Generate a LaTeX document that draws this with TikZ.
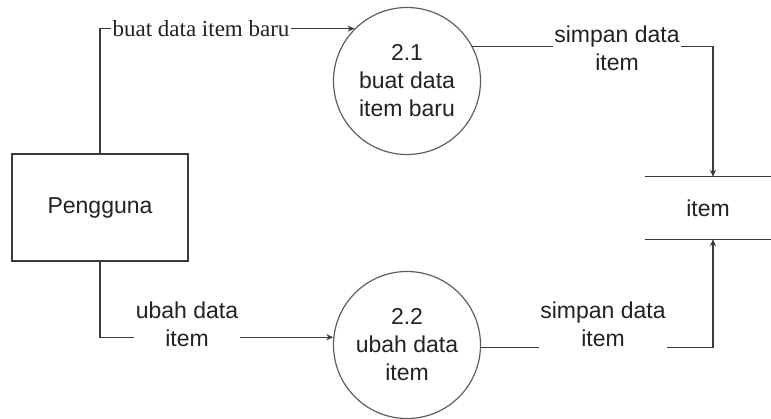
\documentclass[tikz,border=0pt]{standalone}
\usepackage{fontspec}
\setmainfont{Liberation Sans}
\newfontfamily\labelserif{Liberation Serif}
\usetikzlibrary{arrows.meta}
\definecolor{ink}{HTML}{222222}
\definecolor{wire}{HTML}{3A3A3A}
\definecolor{rim}{HTML}{5E5E5E}
\tikzset{
  txt/.style={font=\fontsize{23}{28}\selectfont, text=ink, align=center},
  entity/.style={txt, draw=wire, line width=1.3pt, minimum width=176pt, minimum height=107pt, inner sep=0pt},
  process/.style={txt, circle, draw=rim, line width=1.2pt, minimum size=147pt, inner sep=0pt},
  store/.style={txt, minimum width=126pt, minimum height=62pt, inner sep=0pt},
  flow/.style={draw=wire, line width=1.2pt, -{Stealth[length=7pt,width=6pt]}},
  flowlabel/.style={txt, fill=white, inner xsep=1.5pt, inner ysep=4pt},
}
\begin{document}
\begin{tikzpicture}[x=1pt, y=-1pt]
  \useasboundingbox (0,0) rectangle (771,418);

  % external entity, processes and data store
  \node[entity] (user) at (100,207.5) {Pengguna};
  \node[process] (p1) at (407,81) {2.1\\buat data\\item baru};
  \node[process] (p2) at (407,345) {2.2\\ubah data\\item};
  \node[store] (st) at (708,208) {item};
  \draw[wire, line width=1.2pt] (st.north west) -- (st.north east);
  \draw[wire, line width=1.2pt] (st.south west) -- (st.south east);

  % data flows
  \draw[flow] (user.north) |- (p1.135);
  \draw[flow] (p1.28) -| ([xshift=5pt]st.north);
  \draw[flow] (user.south) |- (p2.174);
  \draw[flow] (p2.-2) -| ([xshift=5pt]st.south);

  % flow labels
  \node[txt, fill=white, inner xsep=2pt, inner ysep=2pt, font=\labelserif\fontsize{23}{28}\selectfont] (l1) at (201,29) {buat data item baru};
  \node[flowlabel] (l2) at (617,48.5) {simpan data\\item};
  \node[flowlabel] (l3) at (187,324) {ubah data\\item};
  \node[flowlabel] (l4) at (603,324.5) {simpan data\\item};
\end{tikzpicture}
\end{document}
